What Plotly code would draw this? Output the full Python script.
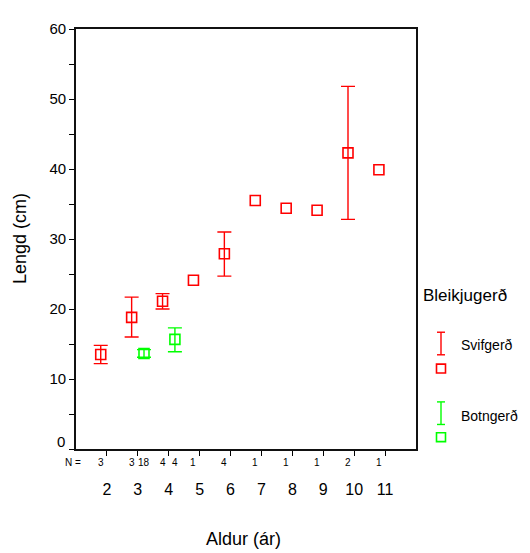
import plotly.graph_objects as go

# ---- data ----
ages = [2, 3, 4, 5, 6, 7, 8, 9, 10, 11]
svif_ages = [2, 3, 4, 5, 6, 7, 8, 9, 10, 11]
svif_mean = [13.5, 18.8, 21.1, 24.1, 27.9, 35.5, 34.4, 34.1, 42.3, 39.9]
svif_upper = [14.8, 21.7, 22.2, None, 31.0, None, None, None, 51.8, None]
svif_lower = [12.2, 16.0, 20.0, None, 24.7, None, None, None, 32.8, None]
svif_n = [3, 3, 4, 1, 4, 1, 1, 1, 2, 1]

botn_ages = [3, 4]
botn_mean = [13.65, 15.66]
botn_upper = [14.2, 17.3]
botn_lower = [13.1, 13.9]
botn_n = [18, 4]

offset = 0.2
RED = "#ff0000"
GREEN = "#00ff00"
FONT = "Arial, Liberation Sans, sans-serif"

# page is rendered with an 8px body margin
BODY = 8
PAGE_W, PAGE_H = 530, 553
W, H = PAGE_W - BODY, PAGE_H - BODY
# plot area in page pixels
L, R, T, B = 76, 416, 21, 449


def px(xp):
    return (xp - L) / (R - L)


def py(yp):
    return (B - yp) / (B - T)


fig = go.Figure()


def add_group(ages_, mean, up, lo, col, name, shift):
    xs = [a + shift for a in ages_]
    # error bars only where an interval exists
    ex, ey, ep, em = [], [], [], []
    for x, m, u, l in zip(xs, mean, up, lo):
        if u is not None and l is not None:
            ex.append(x)
            ey.append(m)
            ep.append(u - m)
            em.append(m - l)
    fig.add_trace(go.Scatter(
        x=ex, y=ey, mode="markers", marker=dict(size=1, opacity=0),
        error_y=dict(type="data", symmetric=False, array=ep, arrayminus=em,
                     color=col, thickness=1.4, width=7),
        showlegend=False, hoverinfo="skip"))
    fig.add_trace(go.Scatter(
        x=xs, y=mean, mode="markers", name=name,
        marker=dict(symbol="square-open", size=10, color=col, line=dict(width=1.6, color=col)),
        showlegend=False))


add_group(svif_ages, svif_mean, svif_upper, svif_lower, RED, "Svifgerð", -offset)
add_group(botn_ages, botn_mean, botn_upper, botn_lower, GREEN, "Botngerð", offset)

annotations = []
shapes = []

# N labels
annotations.append(dict(text="N =", x=px(83), y=py(463), xref="paper", yref="paper",
                        xanchor="right", yanchor="middle", showarrow=False,
                        font=dict(size=10, family=FONT, color="black")))
for a, n in zip(svif_ages, svif_n):
    annotations.append(dict(text=str(n), x=a - offset, y=py(463), xref="x", yref="paper",
                            xanchor="center", yanchor="middle", showarrow=False,
                            font=dict(size=10, family=FONT, color="black")))
for a, n in zip(botn_ages, botn_n):
    annotations.append(dict(text=str(n), x=a + offset, y=py(463), xref="x", yref="paper",
                            xanchor="center", yanchor="middle", showarrow=False,
                            font=dict(size=10, family=FONT, color="black")))

# "0" tick label (slightly raised as in reference)
annotations.append(dict(text="0", x=px(67), y=py(441), xref="paper", yref="paper",
                        xanchor="right", yanchor="middle", showarrow=False,
                        font=dict(size=15, family=FONT, color="black")))

# Legend
annotations.append(dict(text="Bleikjugerð", x=px(421), y=py(293), xref="paper", yref="paper",
                        xanchor="left", yanchor="middle", showarrow=False,
                        font=dict(size=17, family=FONT, color="black")))
legend_items = [("Svifgerð", RED, 330, 353, 367, 343), ("Botngerð", GREEN, 401, 424, 437, 415)]
for name, col, y0, y1, ysq, ytxt in legend_items:
    xc = 441
    shapes.append(dict(type="line", xref="paper", yref="paper", x0=px(xc), x1=px(xc),
                       y0=py(y0), y1=py(y1), line=dict(color=col, width=1.4)))
    for yy in (y0, y1):
        shapes.append(dict(type="line", xref="paper", yref="paper", x0=px(xc - 4), x1=px(xc + 4),
                           y0=py(yy), y1=py(yy), line=dict(color=col, width=1.4)))
    shapes.append(dict(type="rect", xref="paper", yref="paper", x0=px(xc - 4.5), x1=px(xc + 4.5),
                       y0=py(ysq - 4.5), y1=py(ysq + 4.5), line=dict(color=col, width=1.6)))
    annotations.append(dict(text=name, x=px(459), y=py(ytxt), xref="paper", yref="paper",
                            xanchor="left", yanchor="middle", showarrow=False,
                            font=dict(size=14, family=FONT, color="black")))

# Axis titles
annotations.append(dict(text="Aldur (ár)", x=px(243), y=py(541), xref="paper", yref="paper",
                        xanchor="center", yanchor="middle", showarrow=False,
                        font=dict(size=18, family=FONT, color="black")))
annotations.append(dict(text="Lengd (cm)", x=px(20), y=py(235), xref="paper", yref="paper",
                        xanchor="center", yanchor="middle", showarrow=False, textangle=-90,
                        font=dict(size=18, family=FONT, color="black")))

fig.update_layout(
    width=W, height=H,
    margin=dict(l=L - BODY, r=W - (R - BODY), t=T - BODY, b=H - (B - BODY), pad=0),
    paper_bgcolor="white", plot_bgcolor="white",
    font=dict(family=FONT, color="black"),
    annotations=annotations, shapes=shapes,
    showlegend=False,
)
fig.update_xaxes(
    range=[1, 12], tickmode="array", tickvals=ages, ticktext=[str(a) for a in ages],
    ticks="outside", ticklen=5, tickwidth=1.3, tickcolor="black",
    ticklabelstandoff=20, tickfont=dict(size=16, family=FONT, color="black"),
    showgrid=False, zeroline=False, showline=True, linecolor="#111", linewidth=1.6, mirror=True,
)
fig.update_yaxes(
    range=[0, 60], tickmode="array", tickvals=[0, 10, 20, 30, 40, 50, 60],
    ticktext=["", "10", "20", "30", "40", "50", "60"],
    ticks="outside", ticklen=5, tickwidth=1.3, tickcolor="black",
    minor=dict(tickmode="array", tickvals=[5, 15, 25, 35, 45, 55], ticks="outside",
               ticklen=5, tickwidth=1.3, tickcolor="black", showgrid=False),
    tickfont=dict(size=15, family=FONT, color="black"), ticklabelstandoff=0,
    showgrid=False, zeroline=False, showline=True, linecolor="#111", linewidth=1.6, mirror=True,
)

fig.write_html("out.html")
